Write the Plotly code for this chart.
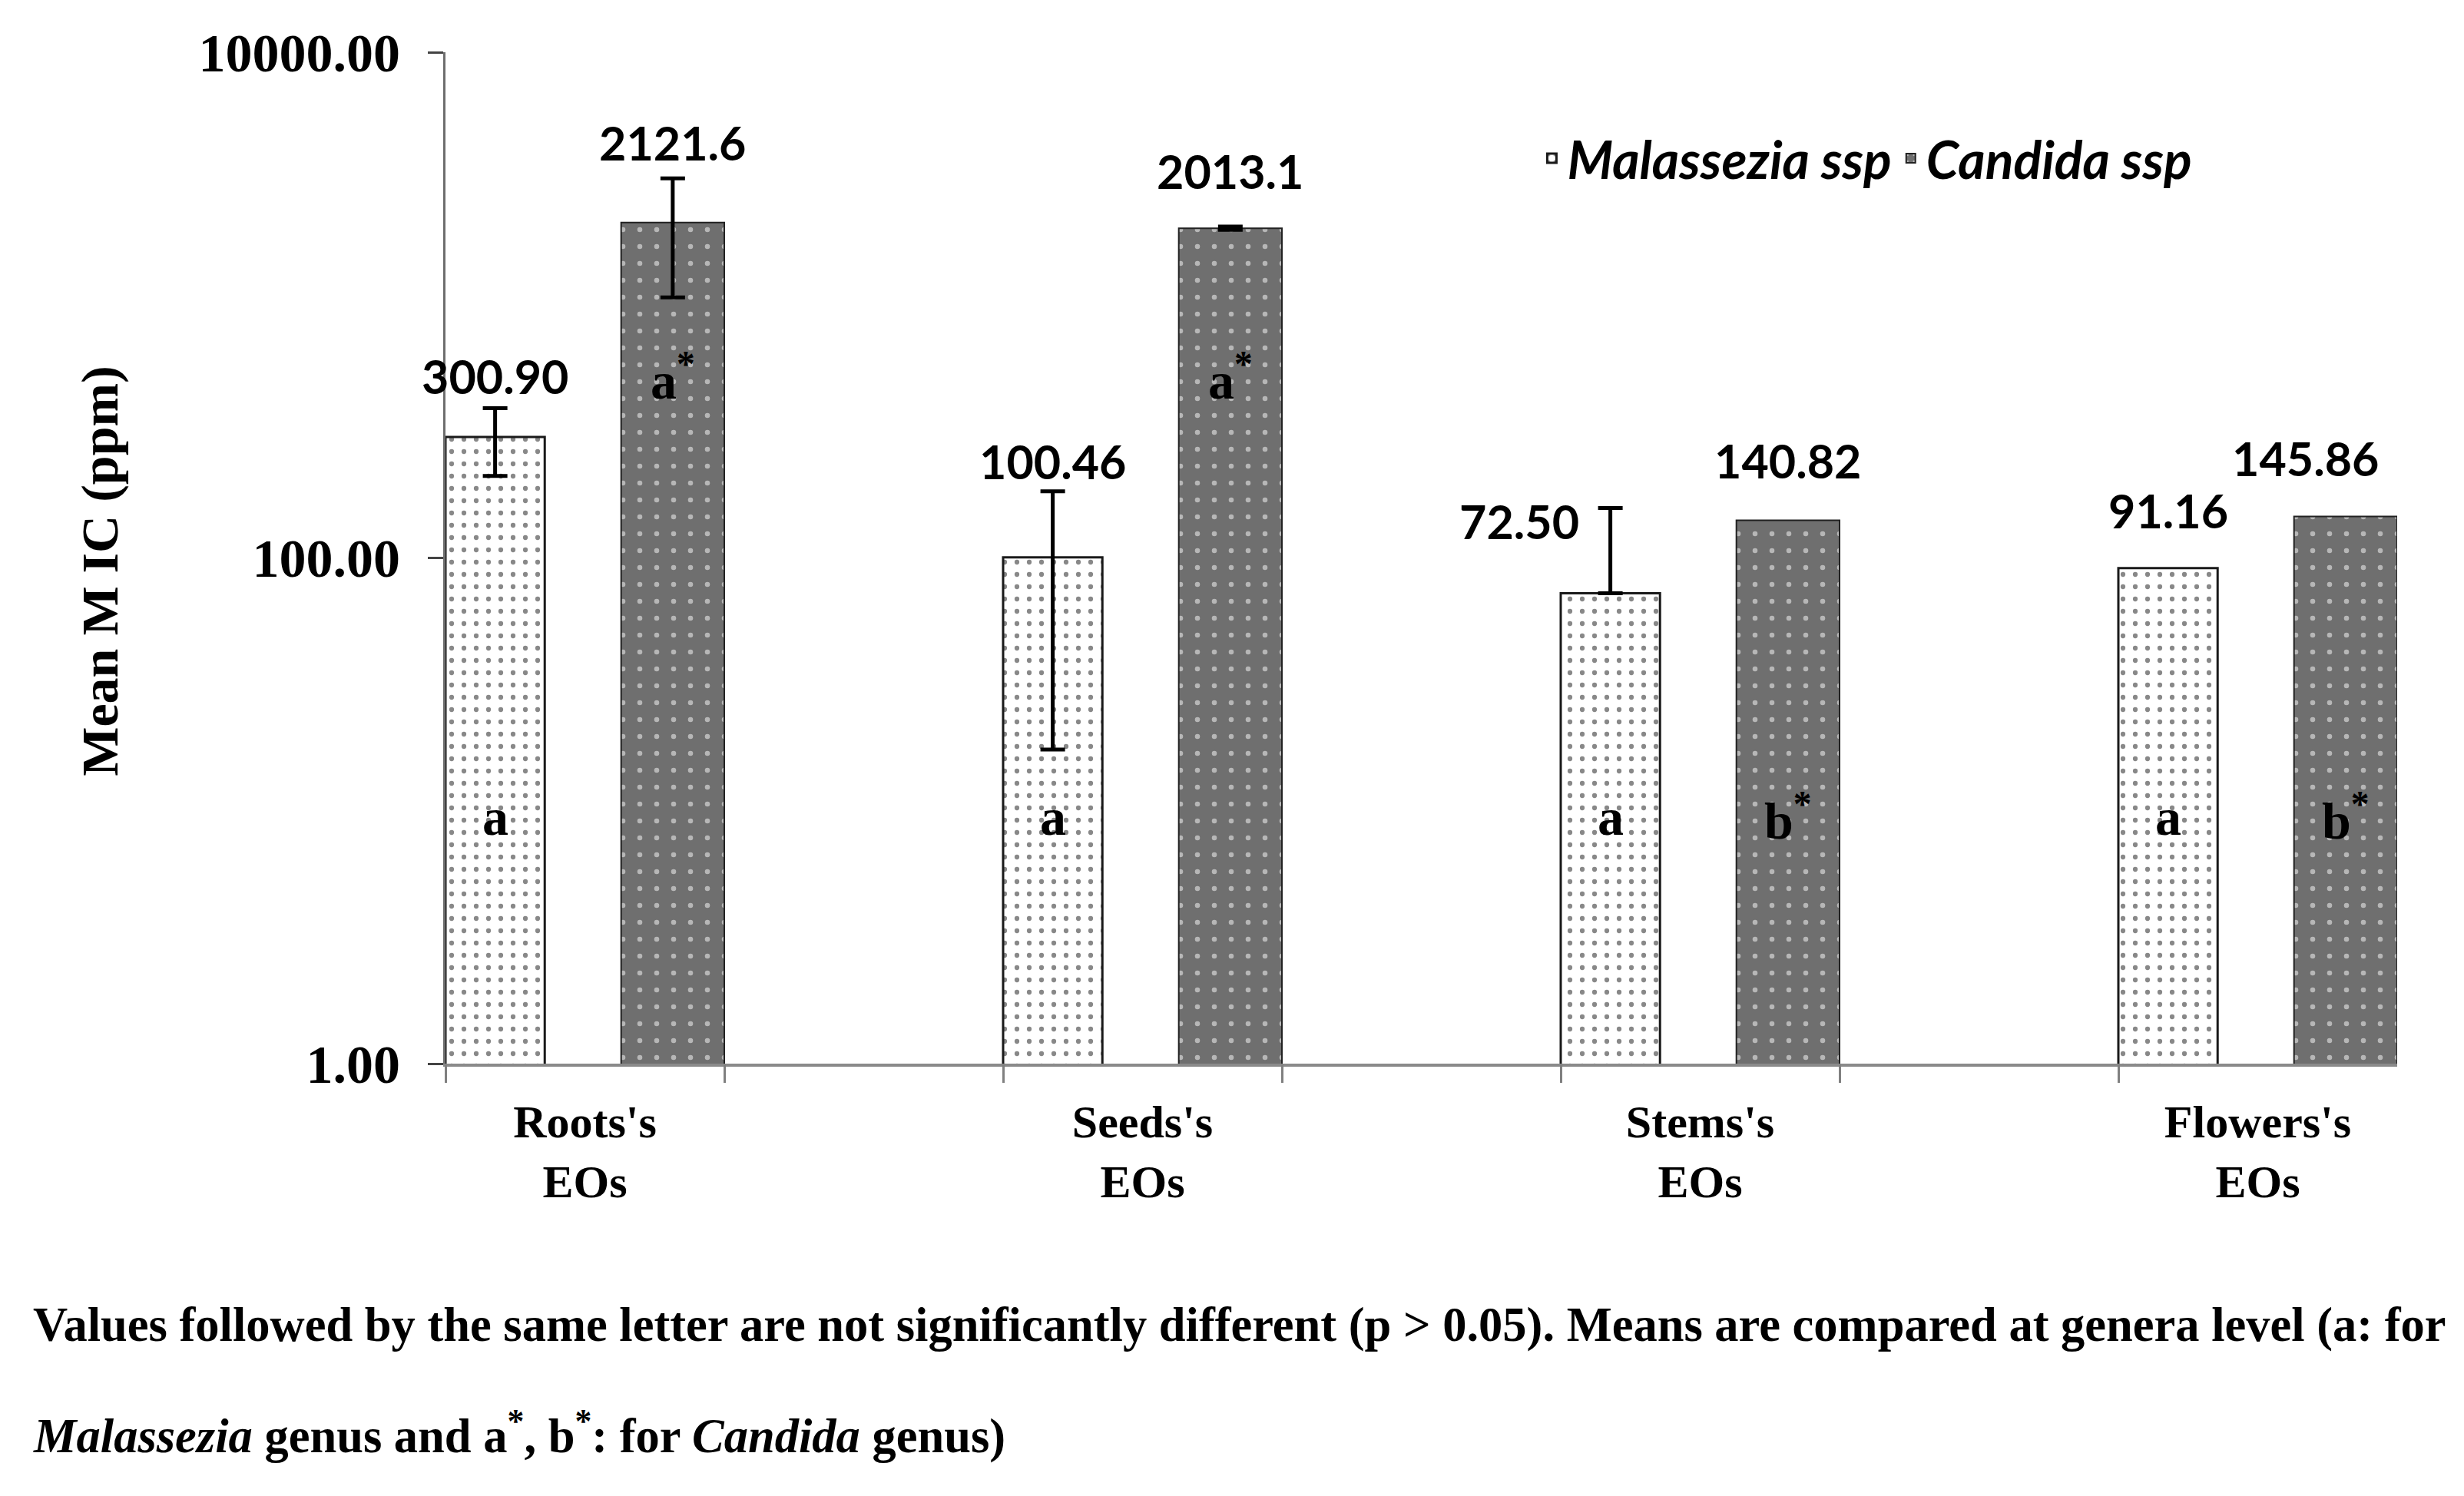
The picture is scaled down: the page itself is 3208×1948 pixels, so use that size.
import numpy as np
import plotly.graph_objects as go

# ---------------- data ----------------
CATEGORIES = ["Roots's<br>EOs", "Seeds's<br>EOs", "Stems's<br>EOs", "Flowers's<br>EOs"]
SERIES = ["Malassezia ssp", "Candida ssp"]
MALASSEZIA = [300.90, 100.46, 72.50, 91.16]
CANDIDA = [2121.6, 2013.1, 140.82, 145.86]
MALASSEZIA_LABELS = ["300.90", "100.46", "72.50", "91.16"]
CANDIDA_LABELS = ["2121.6", "2013.1", "140.82", "145.86"]
MALASSEZIA_ERR_PLUS = [90, 83, 85, np.nan]
MALASSEZIA_ERR_MINUS = [90, 83, 0, np.nan]
CANDIDA_ERR = [1050, 30, np.nan, np.nan]
MALASSEZIA_GROUPS = ["a", "a", "a", "a"]
CANDIDA_GROUPS = ["a*", "a*", "b*", "b*"]
Y_TICKS = [1, 100, 10000]
Y_TICK_LABELS = ["1.00", "100.00", "10000.00"]
Y_TITLE = "Mean M IC (ppm)"

NOTE_LINE1 = ("Values followed by the same letter are not significantly different "
              "(p &gt; 0.05). Means are compared at genera level (a: for")
NOTE_LINE2 = ("<i>Malassezia</i> genus and a<sup>*</sup>, b<sup>*</sup>: for "
              "<i>Candida</i> genus)")

# ---------------- style / layout constants ----------------
W_M, OFF_M = 0.178, -0.25
W_C, OFF_C = 0.185, 0.065
X_RANGE = [-0.25, len(CATEGORIES) - 0.75]

# label pixel offsets (relative to bar top)
LABEL_DY_M = [41, 87, 55, 37]
LABEL_DX_M = [0, 0, -119, 0]
LABEL_DY_C = [66, 36, 40, 38]
LABEL_DX_C = [0, 0, 0, -52]
# vertical position (log10 units) of significance letters
LETTER_Y_M = [0.975, 0.975, 0.975, 0.975]
LETTER_Y_C = [2.715, 2.715, 0.975, 0.975]

SERIF = "Liberation Serif"
SANS = "Lato"

fig = go.Figure()

fig.add_trace(go.Bar(
    x=CATEGORIES, y=MALASSEZIA, name=SERIES[0],
    width=W_M, offset=OFF_M,
    marker=dict(
        color="white",
        pattern=dict(shape=".", fgcolor="#111111", bgcolor="white",
                     size=16, solidity=0.12),
        line=dict(color="#1a1a1a", width=3),
    ),
    error_y=dict(type="data", symmetric=False,
                 array=np.array(MALASSEZIA_ERR_PLUS, dtype=float),
                 arrayminus=np.array(MALASSEZIA_ERR_MINUS, dtype=float),
                 color="black", thickness=5, width=16),
    hoverinfo="skip",
))

fig.add_trace(go.Bar(
    x=CATEGORIES, y=CANDIDA, name=SERIES[1],
    width=W_C, offset=OFF_C,
    marker=dict(
        color="#6f6f6f",
        pattern=dict(shape=".", fgcolor="white", bgcolor="#6f6f6f",
                     size=22, solidity=0.07),
        line=dict(color="#222222", width=2),
    ),
    error_y=dict(type="data", symmetric=False,
                 array=np.array(CANDIDA_ERR, dtype=float),
                 arrayminus=np.array(CANDIDA_ERR, dtype=float),
                 color="black", thickness=5, width=16),
    hoverinfo="skip",
))

# empty trace to host the overlay axis that carries the boundary tick marks
fig.add_trace(go.Scatter(x=[], y=[], xaxis="x2", yaxis="y",
                         showlegend=False, hoverinfo="skip"))

annotations = []
label_font = dict(family=SANS, size=61, color="black", weight="bold")
letter_font = dict(family=SERIF, size=68, color="black", weight="bold")
for i in range(len(CATEGORIES)):
    xm = i + OFF_M + W_M / 2
    xc = i + OFF_C + W_C / 2
    annotations.append(dict(x=xm, y=np.log10(MALASSEZIA[i]), xref="x", yref="y",
                            text=MALASSEZIA_LABELS[i], showarrow=False,
                            yanchor="bottom", xanchor="center",
                            yshift=LABEL_DY_M[i], xshift=LABEL_DX_M[i],
                            font=label_font))
    annotations.append(dict(x=xc, y=np.log10(CANDIDA[i]), xref="x", yref="y",
                            text=CANDIDA_LABELS[i], showarrow=False,
                            yanchor="bottom", xanchor="center",
                            yshift=LABEL_DY_C[i], xshift=LABEL_DX_C[i],
                            font=label_font))
    annotations.append(dict(x=xm, y=LETTER_Y_M[i], xref="x", yref="y",
                            text=MALASSEZIA_GROUPS[i], showarrow=False,
                            yanchor="middle", xanchor="center", font=letter_font))
    annotations.append(dict(x=xc, y=LETTER_Y_C[i], xref="x", yref="y",
                            text=CANDIDA_GROUPS[i].replace("*", "<sup>*</sup>"),
                            showarrow=False, yanchor="middle", xanchor="center",
                            font=letter_font))

note_font = dict(family=SERIF, size=62.5, color="black", weight="bold")
annotations.append(dict(x=-0.2121, y=-0.258, xref="paper", yref="paper",
                        text=NOTE_LINE1, showarrow=False, xanchor="left",
                        yanchor="middle", align="left", font=note_font))
annotations.append(dict(x=-0.2121, y=-0.365, xref="paper", yref="paper",
                        text=NOTE_LINE2, showarrow=False, xanchor="left",
                        yanchor="middle", align="left", font=note_font))

boundary_ticks = sorted([i - 0.25 for i in range(len(CATEGORIES))] +
                        [i + 0.25 for i in range(len(CATEGORIES) - 1)])

fig.update_layout(
    width=3200, height=1940,
    margin=dict(l=572, r=87, t=60, b=563, pad=0),
    paper_bgcolor="white", plot_bgcolor="white",
    barmode="group",
    showlegend=True,
    legend=dict(orientation="h", x=0.559, y=0.895, xanchor="left", yanchor="middle",
                font=dict(family=SANS, size=68, color="black", weight="bold",
                          style="italic"),
                bgcolor="rgba(0,0,0,0)"),
    xaxis=dict(type="category", categoryorder="array", categoryarray=CATEGORIES,
               range=X_RANGE, showline=True, linecolor="#8a8a8a", linewidth=4,
               ticks="", showgrid=False, zeroline=False,
               ticklabelstandoff=20,
               tickfont=dict(family=SERIF, size=60, color="black", weight="bold")),
    xaxis2=dict(type="linear", overlaying="x", anchor="y", side="bottom",
                range=X_RANGE, tickmode="array", tickvals=boundary_ticks,
                ticks="outside", ticklen=24, tickwidth=3, tickcolor="#808080",
                showticklabels=False, showline=False, showgrid=False,
                zeroline=False),
    yaxis=dict(type="log", range=[0, 4], tickmode="array", tickvals=Y_TICKS,
               ticktext=Y_TICK_LABELS, ticks="outside", ticklen=20, tickwidth=3,
               tickcolor="#444444", showline=True, linecolor="#6e6e6e", linewidth=3,
               showgrid=False, zeroline=False, ticklabelstandoff=22,
               tickfont=dict(family=SERIF, size=70, color="black", weight="bold"),
               title=dict(text=Y_TITLE + "&nbsp;&nbsp;", standoff=83,
                          font=dict(family=SERIF, size=68, color="black",
                                    weight="bold"))),
    annotations=annotations,
)

fig.write_html("out.html")
